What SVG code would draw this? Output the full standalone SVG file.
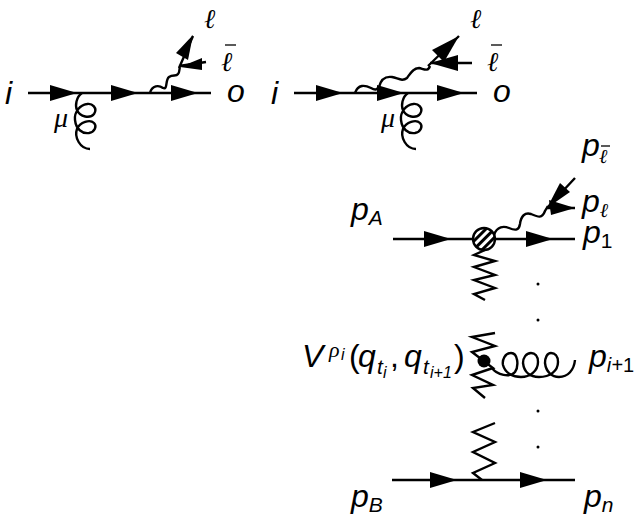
<svg xmlns="http://www.w3.org/2000/svg" width="643" height="515" viewBox="0 0 643 515">
<style>
.l{fill:none;stroke:#000;stroke-width:2.4}
.b{fill:none;stroke:#000;stroke-width:1.3}
.t{font-family:"Liberation Sans",Arial,sans-serif;font-style:italic;font-size:32px;fill:#000}
.u{font-size:21px}
.v{font-size:16px}
.n{font-style:normal}
.g{font-family:"Liberation Serif","DejaVu Serif",serif;font-style:italic;fill:#000}
</style>
<defs>
<pattern id="h" width="6" height="6" patternUnits="userSpaceOnUse" patternTransform="rotate(-45)"><rect width="6" height="3" fill="#000"/></pattern>
<path id="gl" class="l" d="M82,93 C76,97 75,106 77,110 C80,117 90,119 94,114 C98,108 92,103 87,104 C80,105 74,112 75,120 C76,129 82,134 89,133 C95,132 97,126 94,123 C90,119 80,122 77,129 C74,137 80,149 90,149"/>
<path id="ah" d="M0,-8 L27,0 L0,8 Z"/>
</defs>
<g id="connectors">
<path class="l" d="M28,93 H211"/><use href="#ah" x="50" y="93"/><use href="#ah" x="111" y="93"/><use href="#ah" x="171" y="93"/>
<use href="#gl"/>
<path class="l" d="M150,93 C152,85 159,85 163,88 C168,90 165,80 169,77 C173,74 176,77 178,74 C180,72 179,69 180,67"/>
<path class="l" d="M179,68 L193,36 M179,66 L206,62"/>
<path d="M193,35 L176,53 L188,60 Z"/><path d="M180,67 L202,58 L202,70 Z"/>
<path class="l" d="M294,93 H477"/><use href="#ah" x="316" y="93"/><use href="#ah" x="377" y="93"/><use href="#ah" x="437" y="93"/>
<use href="#gl" x="326"/>
<path class="l" d="M355,93 C358,84 365,85 371,88 C376,91 377,89 379,87 C381,79 385,76 392,77 C398,78 402,82 407,78 C410,74 413,68 419,68 C424,69 428,72 430,66"/>
<path class="l" d="M428,66 L459,36 M430,63 H472"/>
<path d="M459,36 L432,50 L444,62 Z"/><path d="M430,63 L458,55 L458,71 Z"/>
<path class="l" d="M393,239 H575"/><use href="#ah" x="424" y="239"/><use href="#ah" x="526" y="239"/>
<path class="l" d="M494,235 C497,226 504,226 509,228 C516,231 519,230 520,224 C521,216 525,212 531,214 C538,217 542,219 545,211 L548,206"/>
<path class="l" d="M575,178 L547,208 M547,208 H575"/>
<path d="M547,208 L560,183 L570,192 Z"/><path d="M549,200 L575,208 L551,215 Z"/>
<path class="l" d="M485,250 L474,255 L495,261 L474,267 L495,275 L474,280 L495,288 L474,294 L485,300"/>
<path class="l" d="M495,333 L472,337 L495,346 L472,352 L493,368 L472,375 L493,385 L473,388 L485,398"/>
<path class="l" d="M492,368 C497,375 510,378 515,372 C519,366 518,353 511,353 C505,353 502,360 503,365 C505,373 513,377 521,377 C530,377 538,371 538,362 C538,356 535,353 531,353 C526,353 523,358 523,363 C524,372 530,377 539,377 C550,377 558,371 558,362 C558,356 555,353 551,353 C547,353 545,358 545,363 C546,372 552,377 559,377 C568,377 574,370 575,360"/>
<path class="l" d="M495,423 L473,432 L495,442 L473,452 L495,463 L473,473 L482,480"/>
<path class="l" d="M392,480 H575"/><use href="#ah" x="430" y="480"/><use href="#ah" x="520" y="480"/>
</g>
<g id="blob"><circle cx="484" cy="239" r="11" fill="#fff"/><circle cx="484" cy="239" r="11" fill="url(#h)" stroke="#000" stroke-width="2.4"/></g>
<g id="vertex"><circle cx="484" cy="361" r="6.5"/></g>
<g id="dots"><circle cx="538" cy="284" r="1.5"/><circle cx="538" cy="320" r="1.5"/><circle cx="538" cy="411" r="1.5"/><circle cx="538" cy="447" r="1.5"/></g>
<g id="labels">
<text class="t" x="5" y="104">i</text><text class="t" x="227" y="102">o</text>
<text class="g" font-size="27" x="204" y="28">ℓ</text><text class="g" font-size="27" x="221" y="71">ℓ</text><path class="b" d="M225,45 H236"/>
<text class="g" font-size="28" x="54" y="127">μ</text>
<text class="t" x="271" y="104">i</text><text class="t" x="493" y="102">o</text>
<text class="g" font-size="27" x="470" y="28">ℓ</text><text class="g" font-size="27" x="487" y="71">ℓ</text><path class="b" d="M491,45 H502"/>
<text class="g" font-size="28" x="381" y="127">μ</text>
<text class="t" x="582" y="156">p</text><text class="g" font-size="20" x="599" y="163">ℓ</text><path class="b" d="M601,146 H610"/>
<text class="t" x="582" y="212">p<tspan class="g" font-size="20" dy="5">ℓ</tspan></text>
<text class="t" x="351" y="220">p<tspan class="u" dy="5">A</tspan></text>
<text class="t" x="583" y="243">p<tspan class="n u" dy="5">1</tspan></text>
<text class="t"><tspan x="302" y="367">V</tspan><tspan class="g" font-size="22" x="329" y="357">ρ</tspan><tspan class="v" x="341" y="360">i</tspan><tspan class="n" x="349" y="367">(</tspan><tspan x="358" y="367">q</tspan><tspan class="u" x="377" y="374">t</tspan><tspan class="v" x="383" y="378">i</tspan><tspan class="n" x="390" y="367">,</tspan><tspan x="404" y="367">q</tspan><tspan class="u" x="423" y="374">t</tspan><tspan class="v" x="430" y="378">i+1</tspan><tspan class="n" x="454" y="367">)</tspan></text>
<text class="t" x="589" y="367">p<tspan dy="5" class="v" style="font-size:20px">i+</tspan><tspan class="n" style="font-size:20px">1</tspan></text>
<text class="t" x="351" y="507">p<tspan class="u" dy="5">B</tspan></text>
<text class="t" x="584" y="507">p<tspan class="u" dy="5">n</tspan></text>
</g>
</svg>
